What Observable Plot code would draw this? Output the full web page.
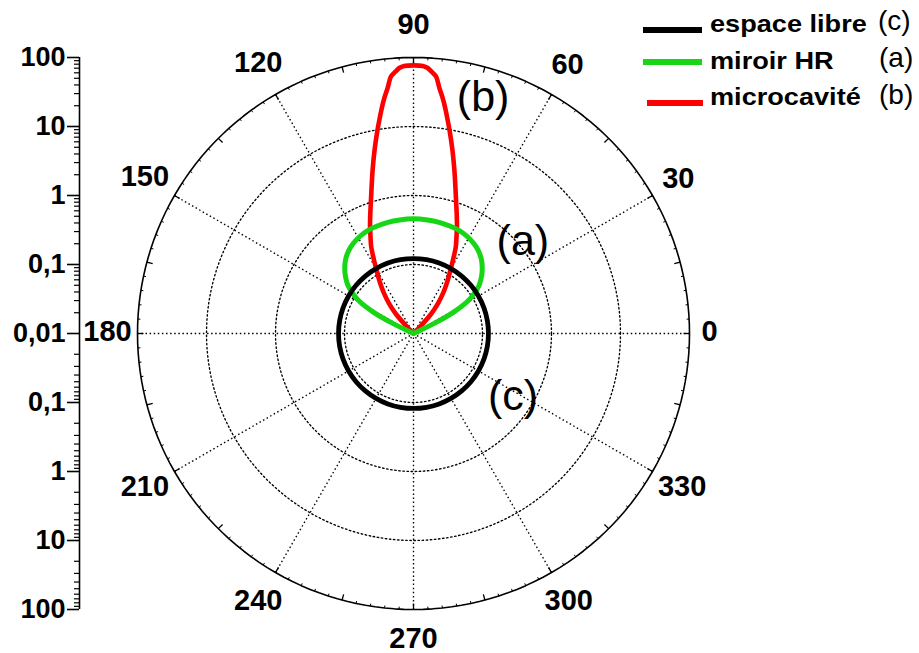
<!DOCTYPE html>
<html><head><meta charset="utf-8">
<script src="https://cdn.jsdelivr.net/npm/d3@7"></script>
<script src="https://cdn.jsdelivr.net/npm/@observablehq/plot@0.6"></script>
<style>
body{margin:0;background:#fff;}
#wrap{position:relative;width:919px;height:653px;font-family:"Liberation Sans",Arial,sans-serif;color:#000;}
.lg-line{position:absolute;height:6px;}
.lg-text{position:absolute;font-weight:bold;font-size:24px;line-height:24px;white-space:nowrap;transform:scaleX(1.13);transform-origin:left center;}
.lg-tag{position:absolute;font-size:28px;line-height:28px;white-space:nowrap;}
</style></head><body><div id="wrap"></div>
<script>
// ---------- data ----------
const angleTicks = [0, 30, 60, 90, 120, 150, 180, 210, 240, 270, 300, 330];
const radialTickValues = [0.01, 0.1, 1, 10, 100];
const radialTickLabels = ["0,01", "0,1", "1", "10", "100"];

const seriesNames = ["espace libre", "miroir HR", "microcavité"];
const seriesTags = ["(c)", "(a)", "(b)"];
const seriesColors = ["#000000", "#16d616", "#ff0000"];

// (c) espace libre : isotropic
const libreAngles = [0,10,20,30,40,50,60,70,80,90,100,110,120,130,140,150,160,170,180,190,200,210,220,230,240,250,260,270,280,290,300,310,320,330,340,350];
const libreValues = [0.122,0.122,0.122,0.122,0.122,0.122,0.122,0.122,0.122,0.122,0.122,0.122,0.122,0.122,0.122,0.122,0.122,0.122,0.122,0.122,0.122,0.122,0.122,0.122,0.122,0.122,0.122,0.122,0.122,0.122,0.122,0.122,0.122,0.122,0.122,0.122];

// (a) miroir HR
const miroirAngles = [0, 24, 26, 28, 31, 33.5, 36, 39, 42, 47, 52, 56, 61, 66, 71, 77, 83, 90, 97, 103, 109, 114, 119, 124, 128, 133, 138, 141, 144, 146.5, 149, 152, 154, 156, 180];
const miroirValues = [0.01, 0.01, 0.022, 0.045, 0.085, 0.114, 0.148, 0.182, 0.218, 0.28, 0.335, 0.37, 0.405, 0.43, 0.44, 0.45, 0.455, 0.46, 0.455, 0.45, 0.44, 0.43, 0.405, 0.37, 0.335, 0.28, 0.218, 0.182, 0.148, 0.114, 0.085, 0.045, 0.022, 0.01, 0.01];

// (b) microcavité
const microAngles = [0, 30, 45, 48, 51, 54, 57, 60, 62, 64, 66, 68, 70, 72, 74, 76, 78, 80, 81, 82, 83, 84, 85, 86, 87, 88, 90, 92, 93, 94, 95, 96, 97, 98, 99, 100, 102, 104, 106, 108, 110, 112, 114, 116, 118, 120, 123, 126, 129, 132, 135, 150, 180];
const microValues = [0.01, 0.01, 0.012, 0.024, 0.037, 0.055, 0.08, 0.12, 0.17, 0.25, 0.34, 0.48, 0.68, 1.0, 1.6, 2.8, 5.2, 10, 14, 20, 28, 38, 55, 63, 72, 76, 77, 76, 72, 63, 55, 38, 28, 20, 14, 10, 5.2, 2.8, 1.6, 1.0, 0.68, 0.48, 0.34, 0.25, 0.17, 0.12, 0.08, 0.055, 0.037, 0.024, 0.012, 0.01, 0.01];

const annLabels = ["(b)", "(a)", "(c)"];
const annAngles = [73.6, 40.2, 327.9];
const annValues = [37.4, 1.19, 0.505];

// ---------- geometry ----------
const W = 919, H = 653;
const U = 69;                       // pixels per decade
const mTop = 57, mBottom = 44, mLeft = 79, mRight = 0;
const cxPx = 413;
const xMin = -(cxPx - mLeft) / U;
const xMax = xMin + (W - mLeft - mRight) / U;
const rScale = d3.scaleLog().domain([0.01, 100]).range([0, 4]).clamp(true);
const R = rScale(100);
const rad = a => a * Math.PI / 180;
const px = (a, r) => r * Math.cos(rad(a));
const py = (a, r) => r * Math.sin(rad(a));

const toPts = (angles, values, name) => angles.map((a, i) => ({a, v: values[i], name}));
const libre = toPts(libreAngles, libreValues, seriesNames[0]);
const miroir = toPts(miroirAngles, miroirValues, seriesNames[1]);
const micro = toPts(microAngles, microValues, seriesNames[2]);

const gridSteps = d3.range(0, 361, 2);
const innerCircles = radialTickValues.slice(1, -1).flatMap(v => gridSteps.map(a => ({a, r: rScale(v), v})));
const outerCircle = gridSteps.map(a => ({a, r: R}));
const majorOuterTicks = d3.range(0, 360, 15);
const minorOuterTicks = d3.range(0, 360, 3);

const majorY = [...radialTickValues.map(v => rScale(v)), ...radialTickValues.slice(1).map(v => -rScale(v))];
const minorY = radialTickValues.slice(0, -1).flatMap(v => d3.range(2, 10).map(m => rScale(m * v))).flatMap(y => [y, -y]);

// label distance from centre: fixed gap plus the half-extent of the label box
const labelRadius = a => {
  const n = String(a).length;
  return (20 + R * U + Math.abs(Math.cos(rad(a))) * (n - 1) * 5 + Math.abs(Math.sin(rad(a))) * 11) / U;
};

const ann = annLabels.map((t, i) => ({t, a: annAngles[i], v: annValues[i]}));

const dots = {stroke: "black", strokeWidth: 1.35, strokeDasharray: "1.5,2.6"};

const chart = Plot.plot({
  width: W, height: H,
  marginTop: mTop, marginBottom: mBottom, marginLeft: mLeft, marginRight: mRight,
  x: {domain: [xMin, xMax], axis: null},
  y: {domain: [-R, R]},
  style: {fontFamily: "'Liberation Sans', Arial, sans-serif", color: "black", background: "white", overflow: "visible"},
  marks: [
    // grid
    Plot.line(innerCircles, {x: d => px(d.a, d.r), y: d => py(d.a, d.r), z: "v", ...dots}),
    Plot.link(angleTicks, {x1: rScale(0.01), y1: rScale(0.01), x2: a => px(a, R), y2: a => py(a, R), ...dots}),
    Plot.line(outerCircle, {x: d => px(d.a, d.r), y: d => py(d.a, d.r), stroke: "black", strokeWidth: 1.6}),
    Plot.link(majorOuterTicks, {x1: a => px(a, R), y1: a => py(a, R), x2: a => px(a, R - 6 / U), y2: a => py(a, R - 6 / U), stroke: "black", strokeWidth: 1.3}),
    Plot.link(minorOuterTicks, {x1: a => px(a, R), y1: a => py(a, R), x2: a => px(a, R - 2.5 / U), y2: a => py(a, R - 2.5 / U), stroke: "black", strokeWidth: 1}),
    // left radial axis
    Plot.ruleX([xMin], {y1: -R, y2: R, stroke: "black", strokeWidth: 1.6}),
    Plot.axisY({ticks: majorY, tickFormat: y => radialTickLabels[Math.round(Math.abs(y))], tickSize: 12, tickPadding: 2, fontSize: 27, fontWeight: "bold", strokeWidth: 1.6}),
    Plot.axisY({ticks: minorY, tickFormat: () => "", tickSize: 5, strokeWidth: 1.2}),
    // angle labels
    Plot.text(angleTicks, {x: a => px(a, labelRadius(a)), y: a => py(a, labelRadius(a)), text: a => String(a), dy: -2, fontSize: 29, fontWeight: "bold", textAnchor: "middle", lineAnchor: "middle", fill: "black"}),
    // series
    Plot.line(micro, {x: d => px(d.a, rScale(d.v)), y: d => py(d.a, rScale(d.v)), stroke: seriesColors[2], strokeWidth: 4.6, strokeLinejoin: "round", curve: "catmull-rom"}),
    Plot.line(miroir, {x: d => px(d.a, rScale(d.v)), y: d => py(d.a, rScale(d.v)), stroke: seriesColors[1], strokeWidth: 5, strokeLinejoin: "round", curve: "catmull-rom"}),
    Plot.line(libre, {x: d => px(d.a, rScale(d.v)), y: d => py(d.a, rScale(d.v)), stroke: seriesColors[0], strokeWidth: 4.8, curve: "catmull-rom-closed"}),
    // annotations
    Plot.text(ann, {x: d => px(d.a, rScale(d.v)), y: d => py(d.a, rScale(d.v)), text: "t", fontSize: 43, fontWeight: "normal", textAnchor: "middle", lineAnchor: "middle", fill: "black"})
  ]
});

const wrap = document.getElementById("wrap");
wrap.appendChild(chart);

// legend (overlay, top-right)
const lgLine = [{left: 643, top: 27, width: 59}, {left: 643, top: 59, width: 59}, {left: 647, top: 99.5, width: 56}];
const lgTextTop = [11.7, 48.7, 84.7];
const lgTagLeft = [878, 879, 879];
const lgTagTop = [7.3, 44.3, 81.3];
seriesNames.forEach((n, i) => {
  const l = document.createElement("div");
  l.className = "lg-line";
  l.style.left = lgLine[i].left + "px"; l.style.top = lgLine[i].top + "px"; l.style.width = lgLine[i].width + "px";
  l.style.background = seriesColors[i];
  wrap.appendChild(l);
  const t = document.createElement("div");
  t.className = "lg-text"; t.textContent = n;
  t.style.left = "710px"; t.style.top = lgTextTop[i] + "px";
  wrap.appendChild(t);
  const g = document.createElement("div");
  g.className = "lg-tag"; g.textContent = seriesTags[i];
  g.style.left = lgTagLeft[i] + "px"; g.style.top = lgTagTop[i] + "px";
  wrap.appendChild(g);
});
</script></body></html>
